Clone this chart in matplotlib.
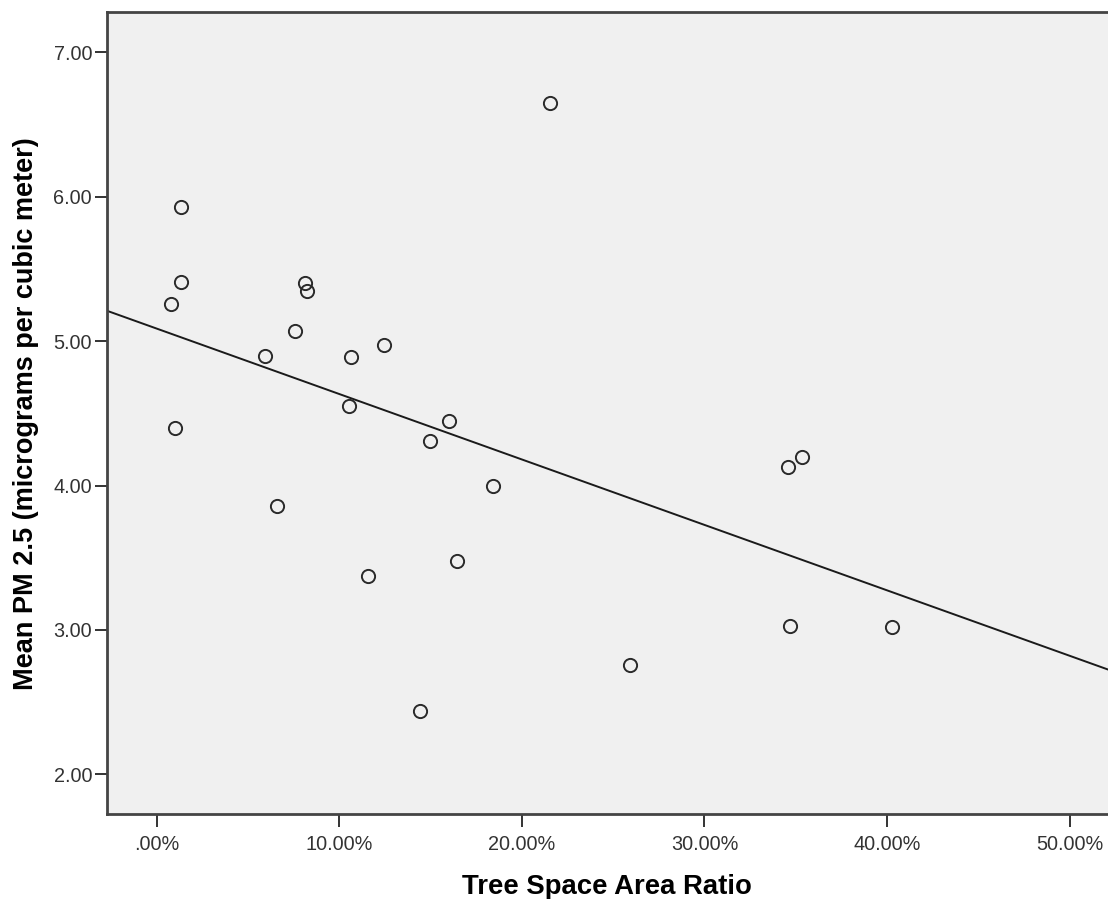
import numpy as np
import matplotlib
matplotlib.use("Agg")
import matplotlib.pyplot as plt
from matplotlib.ticker import FuncFormatter

plt.rcParams['font.family'] = ['Liberation Sans', 'DejaVu Sans']

# tree space area ratio (%) and mean PM2.5 per site
tree_ratio = [1.31, 1.35, 0.80, 8.14, 8.25, 7.57, 5.93, 10.64, 12.43, 10.53,
              16.02, 14.95, 0.99, 18.43, 16.45, 11.59, 21.54, 34.56, 35.32,
              34.68, 40.25, 14.40, 25.90, 6.57]
pm25 = [5.93, 5.41, 5.26, 5.40, 5.35, 5.07, 4.90, 4.89, 4.97, 4.55,
        4.45, 4.31, 4.40, 4.00, 3.48, 3.37, 6.65, 4.13, 4.20,
        3.03, 3.02, 2.44, 2.76, 3.86]

x_ticks = [0, 10, 20, 30, 40, 50]
y_ticks = [2, 3, 4, 5, 6, 7]

x = np.array(tree_ratio)
y = np.array(pm25)

fig = plt.figure(figsize=(11.08, 8.99), dpi=100)
ax = fig.add_axes([0.0963, 0.0942, 0.9037, 0.8921])
ax.set_facecolor('#f0f0f0')

xlim = (-2.74, 52.1)
ylim = (1.723, 7.277)

# linear fit
slope, intercept = np.polyfit(x, y, 1)
xs = np.array(xlim)
ax.plot(xs, intercept + slope * xs, color='#1a1a1a', lw=1.4, zorder=2)

ax.plot(x, y, linestyle='none', marker='o', markersize=9.5,
        markerfacecolor='none', markeredgecolor='#2a2a2a', markeredgewidth=1.4,
        zorder=3)

ax.set_xlim(*xlim)
ax.set_ylim(*ylim)
ax.set_xticks(x_ticks)
ax.set_yticks(y_ticks)
ax.xaxis.set_major_formatter(FuncFormatter(
    lambda v, p: ('%.2f%%' % v).lstrip('0') if v == 0 else '%.2f%%' % v))
ax.yaxis.set_major_formatter(FuncFormatter(lambda v, p: '%.2f' % v))

ax.tick_params(axis='both', direction='out', length=9, width=1.4,
               color='#333333', labelcolor='#333333', labelsize=14.3)
ax.tick_params(axis='x', pad=6)
ax.tick_params(axis='y', pad=1.5)

for side in ['left', 'bottom', 'top']:
    ax.spines[side].set_color('#444444')
    ax.spines[side].set_linewidth(2)
ax.spines['right'].set_visible(False)

ax.set_xlabel('Tree Space Area Ratio', fontsize=19.8, fontweight='bold',
              labelpad=14)
ax.set_ylabel('Mean PM 2.5 (micrograms per cubic meter)', fontsize=19.5,
              fontweight='bold', labelpad=10.5)

fig.savefig('out.png', dpi=100, facecolor='white')
